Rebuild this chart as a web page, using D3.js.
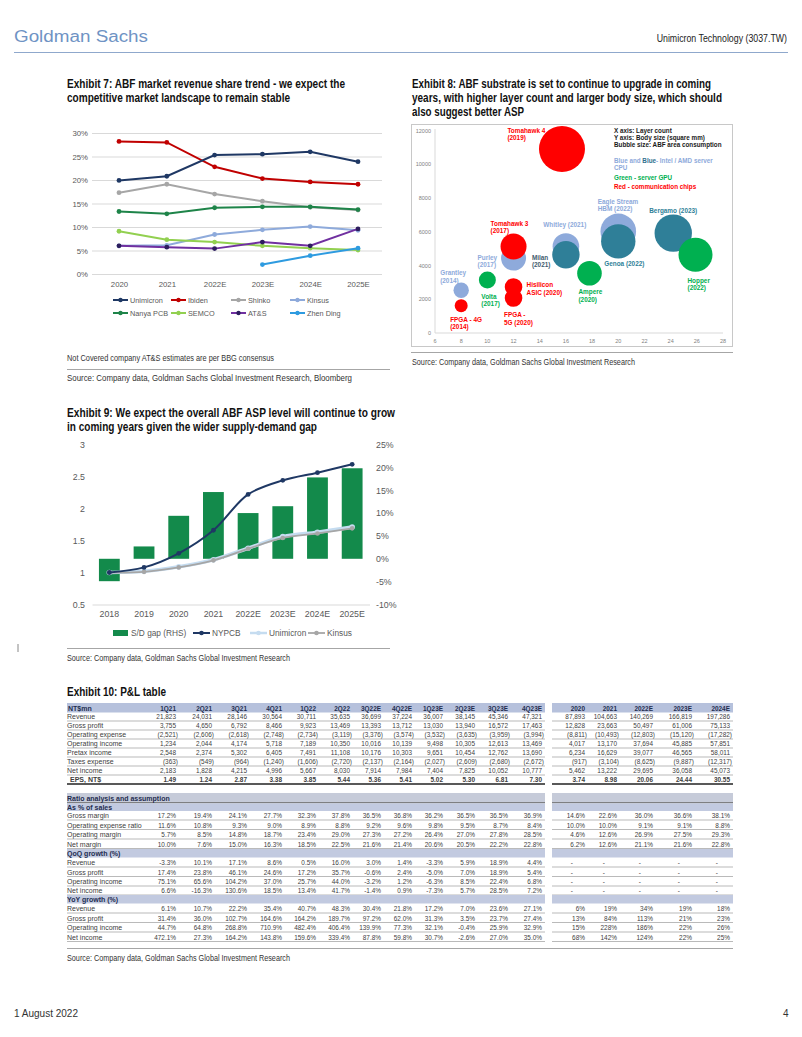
<!DOCTYPE html>
<html><head><meta charset="utf-8">
<script src="https://cdn.jsdelivr.net/npm/d3@7/dist/d3.min.js"></script>
<style>
body{margin:0;background:#fff;}
svg{display:block;font-family:"Liberation Sans",Arial,sans-serif;}
</style></head><body>
<svg id="page" width="802" height="1037"></svg>
<script>
// ================= DATA =================
// Exhibit 7
const ex7Years = ["2020","2021","2022E","2023E","2024E","2025E"];
const ex7Ticks = [0,5,10,15,20,25,30];
const ex7Unimicron = [19.9,20.8,25.3,25.5,26.0,23.9];
const ex7Ibiden    = [28.2,28.0,22.8,20.3,19.6,19.1];
const ex7Shinko    = [17.3,19.1,17.0,15.5,14.2,13.6];
const ex7Kinsus    = [6.0,6.1,8.4,9.4,10.1,9.3];
const ex7NanyaPCB  = [13.3,12.8,14.1,14.3,14.3,13.7];
const ex7SEMCO     = [9.1,7.3,6.8,6.0,5.5,5.1];
const ex7ATS       = [6.0,5.7,5.4,6.8,6.0,9.6];
const ex7ZhenDing  = [null,null,null,2.0,3.9,5.5];

// Exhibit 8
const ex8Names  = ["FPGA - 4G","Grantley","Volta","Purley","Tomahawk 3","Hisilicon ASIC","FPGA - 5G","Whitley","Milan","Ampere","Eagle Stream HBM","Genoa","Bergamo","Hopper","Tomahawk 4"];
const ex8Layers = [8,8,10,12,12,12,12,16,16,17.8,20,20,24.2,25.9,15.7];
const ex8BodySize = [1620,2530,3140,4440,5130,2730,2070,5130,4640,3540,6020,5430,5920,4640,10900];
const ex8Area   = [8.3,11.7,14.3,30.9,33.4,15.3,15.3,34.9,37.1,29.9,62.6,58.4,69.1,57.1,104.5];
const ex8Group  = ["comm","cpu","gpu","cpu","comm","comm","comm","cpu","cpu2","gpu","cpu","cpu2","cpu2","gpu","comm"];
const ex8LabelLines = [["FPGA - 4G","(2014)"],["Grantley","(2014)"],["Volta","(2017)"],["Purley","(2017)"],["Tomahawk 3","(2017)"],["Hisilicon","ASIC (2020)"],["FPGA -","5G (2020)"],["Whitley (2021)"],["Milan","(2021)"],["Ampere","(2020)"],["Eagle Stream","HBM (2022)"],["Genoa (2022)"],["Bergamo (2023)"],["Hopper","(2022)"],["Tomahawk 4","(2019)"]];
const ex8XTicks = [6,8,10,12,14,16,18,20,22,24,26,28];
const ex8YTicks = [0,2000,4000,6000,8000,10000,12000];

// Exhibit 9
const ex9Years = ["2018","2019","2020","2021","2022E","2023E","2024E","2025E"];
const ex9SDGap = [-4.9,2.7,9.4,14.6,10.0,11.5,17.8,19.8];
const ex9NYPCB = [1.0,1.08,1.30,1.66,2.22,2.44,2.56,2.69];
const ex9Unimicron = [1.0,1.02,1.09,1.20,1.38,1.56,1.63,1.71];
const ex9Kinsus = [1.0,1.01,1.08,1.19,1.37,1.54,1.61,1.69];
const ex9LeftTicks = [0.5,1,1.5,2,2.5,3];
const ex9RightTicks = [-10,-5,0,5,10,15,20,25];

// Exhibit 10
const plQuarters = ["1Q21","2Q21","3Q21","4Q21","1Q22","2Q22","3Q22E","4Q22E","1Q23E","2Q23E","3Q23E","4Q23E"];
const plYears = ["2020","2021","2022E","2023E","2024E"];
const revenueQ = [21823,24031,28146,30564,30711,35635,36699,37224,36007,38145,45346,47321];
const revenueA = [87893,104663,140269,166819,197286];
const grossProfitQ = [3755,4650,6792,8466,9923,13469,13393,13712,13030,13940,16572,17463];
const grossProfitA = [12828,23663,50497,61006,75133];
const opexQ = [-2521,-2606,-2618,-2748,-2734,-3119,-3376,-3574,-3532,-3635,-3959,-3994];
const opexA = [-8811,-10493,-12803,-15120,-17282];
const opIncomeQ = [1234,2044,4174,5718,7189,10350,10016,10139,9498,10305,12613,13469];
const opIncomeA = [4017,13170,37694,45885,57851];
const pretaxQ = [2548,2374,5302,6405,7491,11108,10176,10303,9651,10454,12762,13690];
const pretaxA = [6234,16629,39077,46565,58011];
const taxQ = [-363,-549,-964,-1240,-1606,-2720,-2137,-2164,-2027,-2609,-2680,-2672];
const taxA = [-917,-3104,-8625,-9887,-12317];
const netIncomeQ = [2183,1828,4215,4996,5667,8030,7914,7984,7404,7825,10052,10777];
const netIncomeA = [5462,13222,29695,36058,45073];
const epsQ = [1.49,1.24,2.87,3.38,3.85,5.44,5.36,5.41,5.02,5.30,6.81,7.30];
const epsA = [3.74,8.98,20.06,24.44,30.55];
const grossMarginQ = [17.2,19.4,24.1,27.7,32.3,37.8,36.5,36.8,36.2,36.5,36.5,36.9];
const grossMarginA = [14.6,22.6,36.0,36.6,38.1];
const opexRatioQ = [11.6,10.8,9.3,9.0,8.9,8.8,9.2,9.6,9.8,9.5,8.7,8.4];
const opexRatioA = [10.0,10.0,9.1,9.1,8.8];
const opMarginQ = [5.7,8.5,14.8,18.7,23.4,29.0,27.3,27.2,26.4,27.0,27.8,28.5];
const opMarginA = [4.6,12.6,26.9,27.5,29.3];
const netMarginQ = [10.0,7.6,15.0,16.3,18.5,22.5,21.6,21.4,20.6,20.5,22.2,22.8];
const netMarginA = [6.2,12.6,21.1,21.6,22.8];
const qoqRevenueQ = [-3.3,10.1,17.1,8.6,0.5,16.0,3.0,1.4,-3.3,5.9,18.9,4.4];
const qoqGrossProfitQ = [17.4,23.8,46.1,24.6,17.2,35.7,-0.6,2.4,-5.0,7.0,18.9,5.4];
const qoqOpIncomeQ = [75.1,65.6,104.2,37.0,25.7,44.0,-3.2,1.2,-6.3,8.5,22.4,6.8];
const qoqNetIncomeQ = [6.6,-16.3,130.6,18.5,13.4,41.7,-1.4,0.9,-7.3,5.7,28.5,7.2];
const qoqA = [null,null,null,null,null];
const yoyRevenueQ = [6.1,10.7,22.2,35.4,40.7,48.3,30.4,21.8,17.2,7.0,23.6,27.1];
const yoyRevenueA = [6,19,34,19,18];
const yoyGrossProfitQ = [31.4,36.0,102.7,164.6,164.2,189.7,97.2,62.0,31.3,3.5,23.7,27.4];
const yoyGrossProfitA = [13,84,113,21,23];
const yoyOpIncomeQ = [44.7,64.8,268.8,710.9,482.4,406.4,139.9,77.3,32.1,-0.4,25.9,32.9];
const yoyOpIncomeA = [15,228,186,22,26];
const yoyNetIncomeQ = [472.1,27.3,164.2,143.8,159.6,339.4,87.8,59.8,30.7,-2.6,27.0,35.0];
const yoyNetIncomeA = [68,142,124,22,25];

// ================= DRAWING =================
const FONT = '"Liberation Sans", Arial, sans-serif';
const svg = d3.select("#page");
const loc = d3.formatLocale({decimal: ".", thousands: ",", grouping: [3], currency: ["", ""], minus: "-"});

function T(parent, x, y, s, o = {}) {
  const sx = o.sx || 1;
  const t = parent.append("text")
    .attr("transform", "translate(" + x + "," + y + ")" + (sx !== 1 ? " scale(" + sx + ",1)" : ""))
    .attr("font-size", o.size || 8)
    .attr("font-weight", o.bold ? "bold" : "normal")
    .attr("fill", o.fill || "#333")
    .attr("text-anchor", o.anchor || "start")
    .text(s);
  if (o.len) t.attr("textLength", o.len / sx).attr("lengthAdjust", "spacingAndGlyphs");
  return t;
}
function hline(parent, x1, x2, y, color, w) {
  parent.append("line").attr("x1", x1).attr("x2", x2).attr("y1", y).attr("y2", y)
    .attr("stroke", color).attr("stroke-width", w);
}

// ---- Page header / footer ----
T(svg, 14, 42, "Goldman Sachs", {size: 16, fill: "#6f93c4", len: 134});
T(svg, 787, 42, "Unimicron Technology (3037.TW)", {size: 11, fill: "#222", anchor: "end", sx: 0.8});
hline(svg, 14, 788, 52.5, "#8fa8cc", 1);
T(svg, 14, 1017, "1 August 2022", {size: 10, fill: "#333", len: 64});
T(svg, 783, 1017, "4", {size: 10, fill: "#333"});
svg.append("line").attr("x1", 18).attr("x2", 18).attr("y1", 644).attr("y2", 652).attr("stroke", "#888").attr("stroke-width", 1);

// ---- Titles ----
const TT = {size: 12.5, bold: true, fill: "#111"};
T(svg, 67, 87.5, "Exhibit 7: ABF market revenue share trend - we expect the", Object.assign({}, TT, {len: 278}));
T(svg, 67, 102, "competitive market landscape to remain stable", Object.assign({}, TT, {len: 223}));
T(svg, 412, 87.5, "Exhibit 8: ABF substrate is set to continue to upgrade in coming", Object.assign({}, TT, {len: 299}));
T(svg, 412, 102, "years, with higher layer count and larger body size, which should", Object.assign({}, TT, {len: 310}));
T(svg, 412, 116, "also suggest better ASP", Object.assign({}, TT, {len: 112}));
T(svg, 67, 417, "Exhibit 9: We expect the overall ABF ASP level will continue to grow", Object.assign({}, TT, {len: 328}));
T(svg, 67, 431, "in coming years given the wider supply-demand gap", Object.assign({}, TT, {len: 250}));
T(svg, 67, 696, "Exhibit 10: P&L table", Object.assign({}, TT, {len: 99}));

// ---- Sources ----
const ST = {size: 9, fill: "#333"};
T(svg, 67, 361, "Not Covered company AT&S estimates are per BBG consensus", Object.assign({}, ST, {len: 207}));
hline(svg, 67, 390, 369.5, "#a6a6a6", 1);
T(svg, 67, 381, "Source: Company data, Goldman Sachs Global Investment Research, Bloomberg", Object.assign({}, ST, {len: 285}));
hline(svg, 411, 733, 352.5, "#a6a6a6", 1);
T(svg, 412, 365, "Source: Company data, Goldman Sachs Global Investment Research", Object.assign({}, ST, {len: 223}));
hline(svg, 67, 390, 648.5, "#a6a6a6", 1);
T(svg, 67, 661, "Source: Company data, Goldman Sachs Global Investment Research", Object.assign({}, ST, {len: 223}));
hline(svg, 67, 733, 948.5, "#a6a6a6", 1);
T(svg, 67, 961, "Source: Company data, Goldman Sachs Global Investment Research", Object.assign({}, ST, {len: 223}));

// ================= Exhibit 7 =================
(function () {
  const g = svg.append("g");
  const x = d3.scalePoint().domain(ex7Years).range([119, 358]);
  const y = d3.scaleLinear().domain([0, 30]).range([274, 133]);
  const ya = g.append("g").attr("transform", "translate(92,0)")
    .call(d3.axisLeft(y).tickValues(ex7Ticks).tickSize(-290).tickPadding(4).tickFormat(d => d + "%"));
  ya.attr("font-family", FONT).attr("font-size", 7.8);
  ya.select(".domain").remove();
  ya.selectAll("line").attr("stroke", "#d9d9d9");
  ya.selectAll("text").attr("fill", "#595959");
  const xa = g.append("g").attr("transform", "translate(0,274)")
    .call(d3.axisBottom(x).tickSize(0).tickPadding(7.5));
  xa.attr("font-family", FONT).attr("font-size", 7.8);
  xa.select(".domain").remove();
  xa.selectAll("text").attr("fill", "#595959");

  const series = [
    {name: "Unimicron", v: ex7Unimicron, c: "#1f3864", m: "#1f3864"},
    {name: "Ibiden", v: ex7Ibiden, c: "#c00000", m: "#c00000"},
    {name: "Shinko", v: ex7Shinko, c: "#a6a6a6", m: "#a6a6a6"},
    {name: "Kinsus", v: ex7Kinsus, c: "#8eaadb", m: "#8eaadb"},
    {name: "Nanya PCB", v: ex7NanyaPCB, c: "#1e8449", m: "#1e8449"},
    {name: "SEMCO", v: ex7SEMCO, c: "#92d050", m: "#92d050"},
    {name: "AT&S", v: ex7ATS, c: "#7030a0", m: "#2c1d5e"},
    {name: "Zhen Ding", v: ex7ZhenDing, c: "#2e9be0", m: "#2e9be0"}
  ];
  const order = ["Shinko", "Kinsus", "SEMCO", "Nanya PCB", "Zhen Ding", "AT&S", "Ibiden", "Unimicron"];
  const line = d3.line().defined(d => d.v != null).x(d => x(d.k)).y(d => y(d.v));
  order.forEach(n => {
    const s = series.find(e => e.name === n);
    const pts = ex7Years.map((k, i) => ({k: k, v: s.v[i]}));
    g.append("path").attr("d", line(pts)).attr("fill", "none").attr("stroke", s.c).attr("stroke-width", 2);
    g.selectAll(null).data(pts.filter(d => d.v != null)).enter().append("circle")
      .attr("cx", d => x(d.k)).attr("cy", d => y(d.v)).attr("r", 2.4).attr("fill", s.m);
  });
  const lx = [113, 171, 231, 290], ly = [300, 313];
  series.forEach((s, i) => {
    const xx = lx[i % 4], yy = ly[Math.floor(i / 4)];
    g.append("line").attr("x1", xx).attr("x2", xx + 15).attr("y1", yy).attr("y2", yy).attr("stroke", s.c).attr("stroke-width", 2);
    g.append("circle").attr("cx", xx + 7.5).attr("cy", yy).attr("r", 2.2).attr("fill", s.m);
    T(g, xx + 17, yy + 2.6, s.name, {size: 7.3, fill: "#595959"});
  });
})();

// ================= Exhibit 8 =================
(function () {
  const g = svg.append("g");
  g.append("rect").attr("x", 411.5).attr("y", 124.5).attr("width", 321).attr("height", 222)
    .attr("fill", "none").attr("stroke", "#c8c8c8").attr("stroke-width", 1);
  const x = d3.scaleLinear().domain([6, 28]).range([435, 723]);
  const y = d3.scaleLinear().domain([0, 12000]).range([333, 130.5]);
  const r = d3.scaleSqrt().domain([0, 100]).range([0, 22.5]);
  g.append("line").attr("x1", 435).attr("x2", 435).attr("y1", 129).attr("y2", 333).attr("stroke", "#d9d9d9");
  g.append("line").attr("x1", 435).attr("x2", 723).attr("y1", 333).attr("y2", 333).attr("stroke", "#d9d9d9");
  ex8YTicks.forEach(t => T(g, 431, y(t) + 2, String(t), {size: 5.5, fill: "#7f7f7f", anchor: "end"}));
  ex8XTicks.forEach(t => T(g, x(t), 342.5, String(t), {size: 5.5, fill: "#7f7f7f", anchor: "middle"}));

  const col = {cpu: "#8eaadb", cpu2: "#2f7f98", gpu: "#00b050", comm: "#ff0000"};
  const data = ex8Names.map((n, i) => ({n: n, x: ex8Layers[i], y: ex8BodySize[i], a: ex8Area[i], grp: ex8Group[i], lines: ex8LabelLines[i]}));
  ["cpu", "cpu2", "gpu", "comm"].forEach(gr => {
    data.filter(d => d.grp === gr).forEach(d => {
      g.append("circle").attr("cx", x(d.x)).attr("cy", y(d.y)).attr("r", r(d.a)).attr("fill", col[gr]);
    });
  });
  const offs = {
    "FPGA - 4G": [-11, 16], "Grantley": [-21, -15], "Volta": [-6, 19], "Purley": [-36, 2],
    "Tomahawk 3": [-23, -20.5], "Hisilicon ASIC": [13, 0.5], "FPGA - 5G": [-9.5, 19.4],
    "Whitley": [-22.6, -19], "Milan": [-34, 5.3], "Ampere": [-11, 21], "Eagle Stream HBM": [-20.6, -27.4],
    "Genoa": [-14, 25], "Bergamo": [-24, -20.3], "Hopper": [-8, 28], "Tomahawk 4": [-54.6, -16.5]
  };
  data.forEach(d => {
    const o = offs[d.n];
    const fill = d.n === "Milan" ? "#3f5b6e" : col[d.grp];
    d.lines.forEach((ln, j) => {
      T(g, x(d.x) + o[0], y(d.y) + o[1] + j * 7.4, ln, {size: 6.4, bold: true, fill: fill});
    });
  });
  const NB = {size: 6.3, bold: true};
  T(g, 614, 132.5, "X axis: Layer count", Object.assign({}, NB, {fill: "#1a1a1a"}));
  T(g, 614, 139.8, "Y axis: Body size (square mm)", Object.assign({}, NB, {fill: "#1a1a1a"}));
  T(g, 614, 147.3, "Bubble size: ABF area consumption", Object.assign({}, NB, {fill: "#1a1a1a"}));
  const t1 = g.append("text").attr("x", 614).attr("y", 162.8).attr("font-size", 6.3).attr("font-weight", "bold");
  t1.append("tspan").attr("fill", "#8eaadb").text("Blue and ");
  t1.append("tspan").attr("fill", "#2f6f8e").text("Blue");
  t1.append("tspan").attr("fill", "#8eaadb").text("- Intel / AMD server");
  T(g, 614, 169.8, "CPU", Object.assign({}, NB, {fill: "#8eaadb"}));
  T(g, 614, 179.5, "Green - server GPU", Object.assign({}, NB, {fill: "#00b050"}));
  T(g, 614, 189.2, "Red - communication chips", Object.assign({}, NB, {fill: "#ff0000"}));
})();

// ================= Exhibit 9 =================
(function () {
  const g = svg.append("g");
  const x = d3.scaleBand().domain(ex9Years).range([92, 369.5]).paddingInner(0.4).paddingOuter(0.2);
  const yL = d3.scaleLinear().domain([0.5, 3]).range([604.5, 444.5]);
  const yR = d3.scaleLinear().domain([-10, 25]).range([604.5, 444.5]);
  const la = g.append("g").attr("transform", "translate(92,0)")
    .call(d3.axisLeft(yL).tickValues(ex9LeftTicks).tickSize(0).tickPadding(7).tickFormat(d => String(d)));
  la.attr("font-family", FONT).attr("font-size", 8.8);
  la.select(".domain").remove();
  la.selectAll("text").attr("fill", "#595959");
  const ra = g.append("g").attr("transform", "translate(369.5,0)")
    .call(d3.axisRight(yR).tickValues(ex9RightTicks).tickSize(0).tickPadding(6.5).tickFormat(d => String(d) + "%"));
  ra.attr("font-family", FONT).attr("font-size", 8.8);
  ra.select(".domain").remove();
  ra.selectAll("text").attr("fill", "#595959");
  g.selectAll(null).data(ex9Years).enter().append("rect")
    .attr("x", d => x(d)).attr("width", x.bandwidth())
    .attr("y", (d, i) => Math.min(yR(0), yR(ex9SDGap[i])))
    .attr("height", (d, i) => Math.abs(yR(ex9SDGap[i]) - yR(0)))
    .attr("fill", "#138a4b");
  const xa = g.append("g").attr("transform", "translate(0,604.5)")
    .call(d3.axisBottom(x).tickSize(0).tickSizeOuter(0).tickPadding(6.5));
  xa.attr("font-family", FONT).attr("font-size", 8.8);
  xa.select(".domain").attr("stroke", "#d9d9d9");
  xa.selectAll("text").attr("fill", "#595959");

  const cx = d => x(d) + x.bandwidth() / 2;
  const line = d3.line().x(d => cx(d.k)).y(d => yL(d.v)).curve(d3.curveCatmullRom.alpha(0.5));
  function series(vals, color, w, mcol, mr) {
    const pts = ex9Years.map((k, i) => ({k: k, v: vals[i]}));
    g.append("path").attr("d", line(pts)).attr("fill", "none").attr("stroke", color).attr("stroke-width", w);
    g.selectAll(null).data(pts).enter().append("circle").attr("cx", d => cx(d.k)).attr("cy", d => yL(d.v)).attr("r", mr).attr("fill", mcol);
  }
  series(ex9Unimicron, "#c5dcf0", 3.6, "#c5dcf0", 2.8);
  series(ex9Kinsus, "#a6a6a6", 1.8, "#a6a6a6", 2.3);
  series(ex9NYPCB, "#1f3864", 2, "#1f3864", 2.4);
  const ly = 633;
  g.append("rect").attr("x", 113).attr("y", ly - 3).attr("width", 15).attr("height", 6).attr("fill", "#138a4b");
  T(g, 131, ly + 3, "S/D gap (RHS)", {size: 8.3, fill: "#595959"});
  const leg = [[193, "NYPCB", "#1f3864", 2], [250, "Unimicron", "#c5dcf0", 2.5], [308, "Kinsus", "#a6a6a6", 1.8]];
  leg.forEach(function (l) {
    g.append("line").attr("x1", l[0]).attr("x2", l[0] + 17).attr("y1", ly).attr("y2", ly).attr("stroke", l[2]).attr("stroke-width", l[3]);
    g.append("circle").attr("cx", l[0] + 8.5).attr("cy", ly).attr("r", 2.3).attr("fill", l[2]);
    T(g, l[0] + 19, ly + 3, l[1], {size: 8.3, fill: "#595959"});
  });
})();

// ================= Exhibit 10 =================
(function () {
  const g = svg.append("g");
  const qRight = [176, 212, 247, 282, 316, 350, 381, 412, 443, 475, 508, 542];
  const aRight = [585, 617, 653, 692, 730];
  const qBlock = [67, 545], aBlock = [552, 733];
  const qx = d3.scaleOrdinal().domain(plQuarters).range(qRight);
  const ax = d3.scaleOrdinal().domain(plYears).range(aRight);
  const HEAD = "#1f2d50";
  const NUMF = "#404040";

  const fmtN = v => v < 0 ? "(" + loc.format(",")(-v) + ")" : loc.format(",")(v);
  const fmtE = v => loc.format(".2f")(v);
  const fmtP1 = v => v == null ? "-" : loc.format(".1f")(v) + "%";
  const fmtP0 = v => v == null ? "-" : loc.format(".0f")(v) + "%";

  function band(y0, h, color) {
    g.append("rect").attr("x", qBlock[0]).attr("y", y0).attr("width", qBlock[1] - qBlock[0]).attr("height", h).attr("fill", color);
    g.append("rect").attr("x", aBlock[0]).attr("y", y0).attr("width", aBlock[1] - aBlock[0]).attr("height", h).attr("fill", color);
  }
  function rule(y, color, w) {
    hline(g, qBlock[0], qBlock[1], y, color, w);
    hline(g, aBlock[0], aBlock[1], y, color, w);
  }

  band(703, 9.5, "#b6c1dc");
  T(g, 68, 710.5, "NT$mn", {size: 7, bold: true, fill: HEAD});
  plQuarters.forEach(q => T(g, qx(q), 710.5, q, {size: 7, bold: true, fill: HEAD, anchor: "end", sx: 0.92}));
  plYears.forEach(a => T(g, ax(a), 710.5, a, {size: 7, bold: true, fill: HEAD, anchor: "end", sx: 0.92}));

  function row(label, yc, qv, av, fmt, opts) {
    opts = opts || {};
    T(g, opts.indent ? 70 : 67, yc + 2.5, label, {size: 7, bold: !!opts.bold, fill: NUMF});
    qv.forEach((v, i) => {
      const s = fmt(v);
      const neg = s.charAt(0) === "(";
      T(g, qx(plQuarters[i]) + (neg ? 2 : 0), yc + 2.5, s, {size: 7, bold: !!opts.bold, fill: NUMF, anchor: "end", sx: 0.92});
    });
    av.forEach((v, i) => {
      const s = fmt(v);
      const neg = s.charAt(0) === "(";
      const dash = s === "-";
      T(g, ax(plYears[i]) + (neg ? 2 : 0) - (dash ? 12 : 0), yc + 2.5, s, {size: 7, bold: !!opts.bold, fill: NUMF, anchor: "end", sx: 0.92});
    });
    rule(yc + 4.5, opts.thick ? "#222" : "#8c8c8c", opts.thick ? 1.4 : 0.6);
  }

  const plY = [716.5, 725.5, 734.5, 743.5, 752.5, 761.5, 770.5, 779.5];
  row("Revenue", plY[0], revenueQ, revenueA, fmtN);
  row("Gross profit", plY[1], grossProfitQ, grossProfitA, fmtN);
  row("Operating expense", plY[2], opexQ, opexA, fmtN);
  row("Operating income", plY[3], opIncomeQ, opIncomeA, fmtN);
  row("Pretax income", plY[4], pretaxQ, pretaxA, fmtN);
  row("Taxes expense", plY[5], taxQ, taxA, fmtN);
  row("Net income", plY[6], netIncomeQ, netIncomeA, fmtN);
  row("EPS, NT$", plY[7], epsQ, epsA, fmtE, {bold: true, thick: true, indent: true});

  band(793, 9.5, "#c6cbd9");
  hline(g, qBlock[0], qBlock[1], 802.8, "#555", 1);
  hline(g, aBlock[0], aBlock[1], 802.8, "#555", 1);
  T(g, 67, 800.5, "Ratio analysis and assumption", {size: 7, bold: true, fill: HEAD});
  band(803.3, 7.7, "#c2cae0");
  T(g, 67, 809.5, "As % of sales", {size: 7, bold: true, fill: HEAD});
  const rY = [815.5, 825, 834.5, 844];
  row("Gross margin", rY[0], grossMarginQ, grossMarginA, fmtP1);
  row("Operating expense ratio", rY[1], opexRatioQ, opexRatioA, fmtP1);
  row("Operating margin", rY[2], opMarginQ, opMarginA, fmtP1);
  row("Net margin", rY[3], netMarginQ, netMarginA, fmtP1);

  band(849, 8.5, "#c2cae0");
  T(g, 67, 855.8, "QoQ growth (%)", {size: 7, bold: true, fill: HEAD});
  const qY = [862.5, 872, 881.5, 890.5];
  row("Revenue", qY[0], qoqRevenueQ, qoqA, fmtP1);
  row("Gross profit", qY[1], qoqGrossProfitQ, qoqA, fmtP1);
  row("Operating income", qY[2], qoqOpIncomeQ, qoqA, fmtP1);
  row("Net income", qY[3], qoqNetIncomeQ, qoqA, fmtP1);

  band(895, 8.5, "#c2cae0");
  T(g, 67, 901.8, "YoY growth (%)", {size: 7, bold: true, fill: HEAD});
  const yY = [908.5, 918, 927.5, 937];
  function rowMixed(label, yc, qv, av) {
    row(label, yc, qv, [], fmtP1);
    av.forEach((v, i) => T(g, ax(plYears[i]), yc + 2.5, fmtP0(v), {size: 7, fill: NUMF, anchor: "end", sx: 0.92}));
  }
  rowMixed("Revenue", yY[0], yoyRevenueQ, yoyRevenueA);
  rowMixed("Gross profit", yY[1], yoyGrossProfitQ, yoyGrossProfitA);
  rowMixed("Operating income", yY[2], yoyOpIncomeQ, yoyOpIncomeA);
  rowMixed("Net income", yY[3], yoyNetIncomeQ, yoyNetIncomeA);
})();
</script>
</body></html>
